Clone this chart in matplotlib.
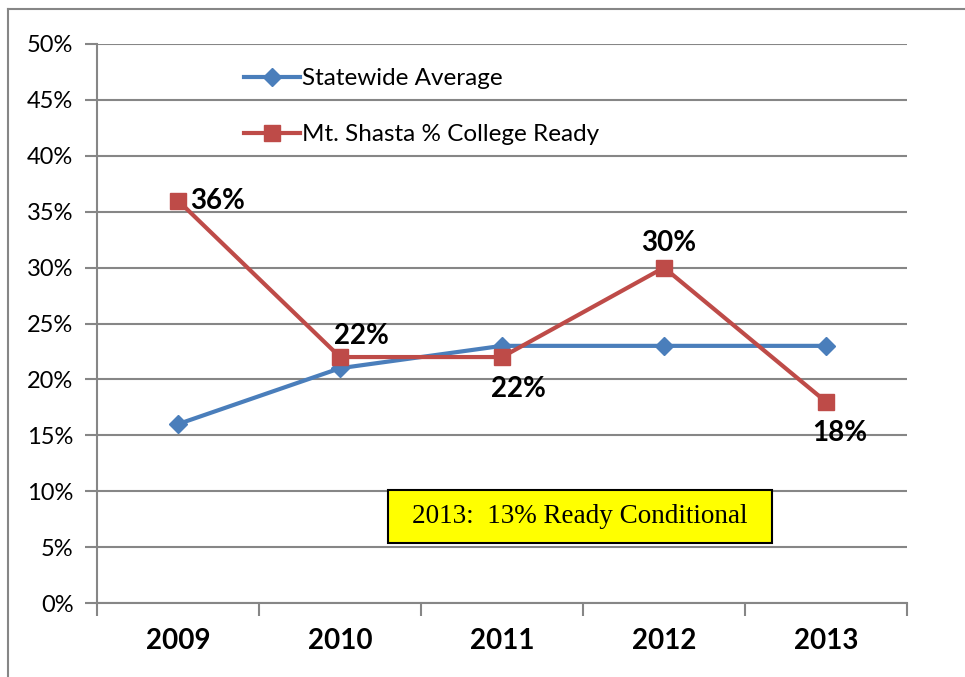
import matplotlib.pyplot as plt
from matplotlib.lines import Line2D
from matplotlib.patches import Rectangle
from matplotlib.ticker import FixedLocator, FuncFormatter

# data
years = ['2009', '2010', '2011', '2012', '2013']
statewide = [16, 21, 23, 23, 23]
shasta = [36, 22, 22, 30, 18]
shasta_labels = ['36%', '22%', '22%', '30%', '18%']
# label offsets (pixels) and alignment for each Mt. Shasta point
label_offsets = [(12, 0, 'left'), (21, 21, 'center'), (16, -32, 'center'),
                 (5, 25, 'center'), (14, -31, 'center')]

plt.rcParams['font.family'] = ['Lato', 'DejaVu Sans']
grey = '#868686'
blue = '#4A7EBB'
red = '#BE4B48'

fig = plt.figure(figsize=(9.65, 6.77), dpi=100)
ax = fig.add_axes([97 / 965, 74 / 677, 810 / 965, 559 / 677])

x = list(range(len(years)))
ax.plot(x, statewide, color=blue, lw=3, marker='D', ms=9, mec=blue, mfc=blue,
        label='Statewide Average', zorder=3)
ax.plot(x, shasta, color=red, lw=3, marker='s', ms=12, mec=red, mfc=red,
        label='Mt. Shasta % College Ready', zorder=4)

for xi, yi, lab, (dx, dy, ha) in zip(x, shasta, shasta_labels, label_offsets):
    ax.annotate(lab, (xi, yi), xytext=(dx, dy), textcoords='offset pixels',
                ha=ha, va='center', fontsize=20, fontweight='bold', zorder=5)

ax.set_xlim(-0.5, len(years) - 0.5)
ax.set_ylim(0, 50)
ax.set_yticks(range(0, 51, 5))
ax.yaxis.set_major_formatter(FuncFormatter(lambda v, p: f'{v:.0f}%'))
ax.set_xticks(x)
ax.set_xticklabels(years, fontsize=20, fontweight='bold')
ax.xaxis.set_minor_locator(FixedLocator([i - 0.5 for i in range(len(years) + 1)]))

ax.tick_params(axis='y', length=9, width=1.5, color=grey, pad=8, labelsize=17)
ax.tick_params(axis='x', which='major', length=0, pad=18)
ax.tick_params(axis='x', which='minor', length=9, width=1.5, color=grey)

ax.grid(axis='y', color=grey, lw=1.5)
ax.set_axisbelow(True)
for side in ['top', 'right']:
    ax.spines[side].set_visible(False)
for side in ['left', 'bottom']:
    ax.spines[side].set_color(grey)
    ax.spines[side].set_linewidth(1.5)

ax.legend(loc='upper left', bbox_to_anchor=(0.181, 0.957), frameon=False,
          fontsize=17.5, handlelength=2.3, handletextpad=0.12, labelspacing=1.45,
          borderpad=0, borderaxespad=0)

# yellow note box
ax.add_patch(Rectangle((0.359, 0.107), 0.474, 0.095, transform=ax.transAxes,
                       fc='#FFFF00', ec='black', lw=1.5, zorder=6))
ax.text(0.596, 0.154, '2013:  13% Ready Conditional', transform=ax.transAxes,
        ha='center', va='center', fontsize=19.5, family='Liberation Serif',
        zorder=7)

# outer chart frame (partly cropped in the original)
fig.add_artist(Line2D([8 / 965, 8 / 965], [0, 1 - 9 / 677], color=grey, lw=1.5))
fig.add_artist(Line2D([8 / 965, 1], [1 - 9 / 677, 1 - 9 / 677], color=grey, lw=1.5))

fig.savefig('out.png', dpi=100)
